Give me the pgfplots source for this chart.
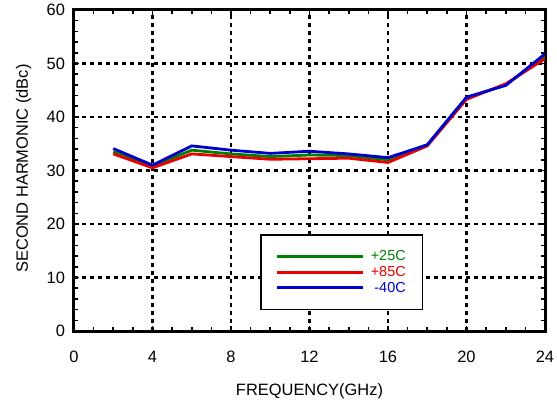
\documentclass[border=0pt]{standalone}
\usepackage{pgfplots}
\pgfplotsset{compat=1.18}
\usepackage{fontspec}
\setmainfont{Liberation Sans}
\usetikzlibrary{calc}
\definecolor{cgreen}{RGB}{0,128,0}
\definecolor{cred}{RGB}{235,0,0}
\definecolor{cblue}{RGB}{0,0,205}
\begin{document}
\begin{tikzpicture}
\begin{axis}[
  name=ax,
  scale only axis,
  width=471bp, height=321bp,
  xmin=0, xmax=24, ymin=0, ymax=60,
  xtick={0,4,...,24}, ytick={0,10,...,60},
  minor x tick num=3, minor y tick num=4,
  tick align=inside,
  major tick length=5bp, minor tick length=4bp,
  tick style={black, line width=1.6bp},
  axis line style={line width=3bp},
  grid=major,
  major grid style={black, line width=2.1bp, dash pattern=on 4bp off 4bp},
  /pgf/number format/assume math mode=true,
  ticklabel style={font=\fontsize{16.5}{18}\selectfont},
  xticklabel style={anchor=base, yshift=-31bp},
  yticklabel style={anchor=east, xshift=-5.5bp},
  label style={font=\fontsize{16.5}{18}\selectfont},
  xlabel={FREQUENCY(GHz)},
  ylabel={SECOND HARMONIC (dBc)},
  xlabel style={at={(rel axis cs:0.5,0)}, anchor=base, yshift=-64bp},
  ylabel style={at={(rel axis cs:0,0.5)}, anchor=base, rotate=0, yshift=46bp, xshift=2bp},
  legend style={at={(rel axis cs:0.395,0.302)}, anchor=north west, draw=black, line width=1.5bp, fill=white,
    font=\fontsize{14.5}{14.5}\selectfont, inner xsep=15bp, inner ysep=14bp, row sep=0bp, column sep=4bp,
    nodes={inner sep=2bp}},
  legend cell align=right,
  legend image code/.code={\draw[#1, line width=3bp] (0bp,0bp) -- (86bp,0bp);},
]
\addplot[cgreen, line width=2.8bp] coordinates {(2,33.5) (4,30.8) (6,33.8) (8,33.1) (10,32.6) (12,32.9) (14,32.8) (16,32.0) (18,34.8) (20,43.6) (22,46.0) (24,51.3)};
\addlegendentry{\textcolor{cgreen}{+25C}}
\addplot[cred, line width=2.8bp] coordinates {(2,33.1) (4,30.5) (6,33.1) (8,32.6) (10,32.1) (12,32.2) (14,32.3) (16,31.5) (18,34.6) (20,43.3) (22,46.2) (24,50.9)};
\addlegendentry{\textcolor{cred}{+85C}}
\addplot[cblue, line width=2.8bp] coordinates {(2,34.1) (4,31.0) (6,34.6) (8,33.8) (10,33.2) (12,33.6) (14,33.1) (16,32.4) (18,34.8) (20,43.7) (22,45.9) (24,51.8)};
\addlegendentry{\textcolor{cblue}{-40C}}
\end{axis}
\pgfresetboundingbox
\path[use as bounding box] ($(ax.south west)+(-74bp,-69bp)$) rectangle ($(ax.north east)+(12bp,10bp)$);
\end{tikzpicture}
\end{document}
